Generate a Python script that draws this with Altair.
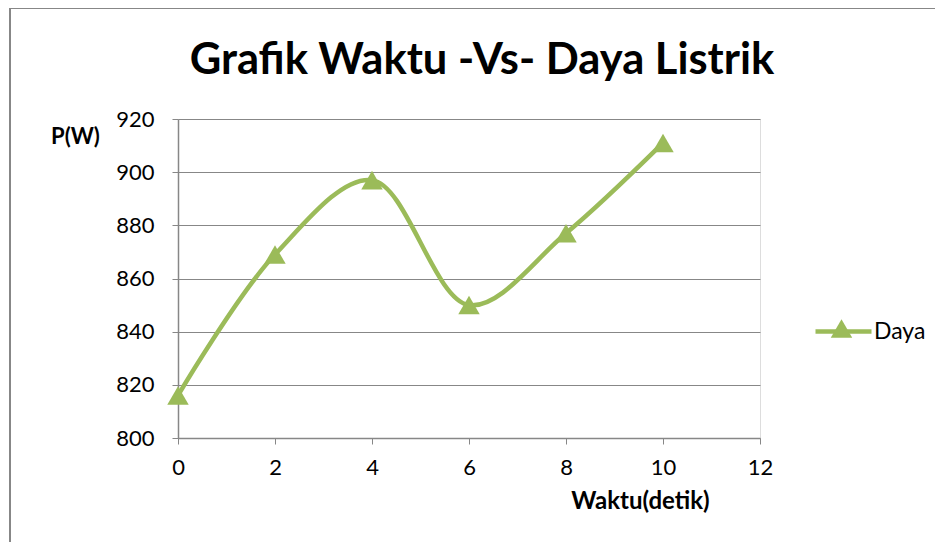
import altair as alt
import pandas as pd

waktu = [0, 2, 4, 6, 8, 10]
daya = [816, 869, 897, 850, 877, 911]
seri = ["Daya"] * len(waktu)
x_ticks = [0, 2, 4, 6, 8, 10, 12]
y_ticks = [800, 820, 840, 860, 880, 900, 920]
judul = "Grafik Waktu -Vs- Daya Listrik"

GREEN = "#9BBB59"
GRAY = "#878787"
FONT = "Lato"

df = pd.DataFrame({"Waktu": waktu, "P": daya, "Seri": seri, "Seri2": seri})

x = alt.X(
    "Waktu:Q",
    scale=alt.Scale(domain=[0, 12], nice=False, zero=False),
    axis=alt.Axis(
        values=x_ticks, grid=False, title="Waktu(detik)", labelFlush=False,
        titleX=462, titleY=70, titleBaseline="alphabetic", titleAlign="center",
        titleFontSize=24, titleFontWeight="bold", titleColor="black", titleFont=FONT,
        labelFontSize=22, labelFont=FONT, labelColor="black", labelPadding=13,
        domainColor=GRAY, tickColor=GRAY, tickSize=6, domainWidth=1.5,
    ),
)
y = alt.Y(
    "P:Q",
    scale=alt.Scale(domain=[800, 920], nice=False, zero=False),
    axis=alt.Axis(
        values=y_ticks, grid=True, gridColor=GRAY, gridWidth=1.2, title="P(W)",
        titleAngle=0, titleX=-103, titleY=24, titleBaseline="alphabetic", titleAlign="center",
        titleFontSize=22, titleFontWeight="bold", titleColor="black", titleFont=FONT,
        labelFontSize=22, labelFont=FONT, labelColor="black", labelPadding=18,
        domainColor=GRAY, tickColor=GRAY, tickSize=6, domainWidth=1.5,
    ),
)

line = alt.Chart(df).mark_line(
    interpolate="catmull-rom", strokeWidth=4.5, strokeCap="round"
).encode(
    x=x, y=y,
    color=alt.Color(
        "Seri:N", scale=alt.Scale(range=[GREEN]),
        legend=alt.Legend(
            title=None, orient="none", legendX=635, legendY=182, padding=0,
            symbolType="stroke", symbolSize=3136, symbolStrokeWidth=4.5,
            labelFontSize=23, labelFont=FONT, labelColor="black", labelOffset=0,
        ),
    ),
)

points = alt.Chart(df).mark_point(
    shape="triangle-up", filled=True, size=460, opacity=1, color=GREEN
).encode(
    x=x, y=y,
    shape=alt.Shape(
        "Seri2:N", scale=alt.Scale(range=["triangle-up"]),
        legend=alt.Legend(
            title=None, orient="none", legendX=652, legendY=198, padding=0,
            symbolSize=460, symbolFillColor=GREEN, symbolStrokeColor=GREEN,
            symbolOpacity=1, labelExpr="''", labelFontSize=1,
        ),
    ),
)

one = pd.DataFrame({"judul": [judul]})
title_text = alt.Chart(one).mark_text(
    font=FONT, fontSize=43.5, fontWeight="bold", color="black",
    align="center", baseline="alphabetic",
).encode(text="judul:N", x=alt.value(304), y=alt.value(-45))

border_left = alt.Chart(one).mark_rule(color=GRAY, strokeWidth=2).encode(
    x=alt.value(-168), y=alt.value(-111), y2=alt.value(440)
)
border_top = alt.Chart(one).mark_rule(color=GRAY, strokeWidth=2).encode(
    x=alt.value(-168), x2=alt.value(790), y=alt.value(-111)
)

chart = alt.layer(border_left, border_top, title_text, line, points).properties(
    width=582,
    height=319,
    autosize=alt.AutoSizeParams(type="none"),
    padding={"left": 170, "top": 111, "right": 175, "bottom": 104},
).configure_view(stroke=None).configure(background="white")

chart.save("out.html", embed_options={"renderer": "svg", "actions": False})
